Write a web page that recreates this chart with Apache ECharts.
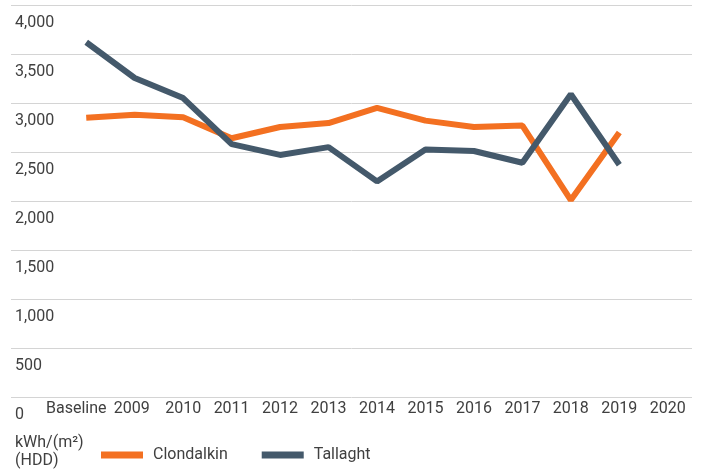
<!DOCTYPE html>
<html>
<head>
<meta charset="utf-8">
<script src="https://cdn.jsdelivr.net/npm/echarts@6/dist/echarts.min.js"></script>
<style>
  html, body { margin: 0; padding: 0; background: #fff; }
  #main { width: 702px; height: 473px; }
</style>
</head>
<body>
<div id="main"></div>
<script>
// categories and values
const years = ["Baseline", "2009", "2010", "2011", "2012", "2013", "2014", "2015", "2016", "2017", "2018", "2019", "2020"];
const clondalkin = [2850, 2880, 2855, 2640, 2755, 2795, 2950, 2820, 2755, 2770, 2010, 2700, null];
const tallaght = [3620, 3255, 3050, 2580, 2470, 2550, 2200, 2525, 2510, 2390, 3090, 2370, null];
const yTicks = { min: 0, max: 4000, step: 500 };

const textColor = "#404040";
const font = "Roboto";

let chart = echarts.init(document.getElementById("main"));
let option = {
  animation: false,
  textStyle: { fontFamily: font },
  title: {
    text: "kWh/(m²)\n(HDD)",
    left: 15,
    top: 434,
    padding: 0,
    textStyle: { fontFamily: font, fontSize: 16, fontWeight: "normal", color: textColor, lineHeight: 18 },
  },
  legend: {
    left: 101,
    top: 447,
    padding: 0,
    icon: "rect",
    itemWidth: 42,
    itemHeight: 7,
    itemGap: 34,
    data: ["Clondalkin", "Tallaght"],
    textStyle: { fontFamily: font, fontSize: 16, color: textColor, padding: [0, 0, 0, 5] },
  },
  grid: [
    // background grid: gridlines + y labels across the whole width
    { left: 11, right: 10, top: 5, bottom: 76 },
    // plot grid for the lines
    { left: 62, right: 10, top: 5, bottom: 76 },
  ],
  xAxis: [
    { gridIndex: 0, type: "value", show: false },
    {
      gridIndex: 1,
      type: "category",
      data: years,
      boundaryGap: true,
      axisLine: { show: false },
      axisTick: { show: false },
      axisLabel: {
        margin: 4,
        fontSize: 16,
        color: textColor,
        fontFamily: font,
        interval: 0,
        // first label sits a little to the left, as in the original
        formatter: (v, i) => (i === 0 ? "{first|" + v + "}" : i === 1 ? "{second|" + v + "}" : v),
        rich: {
          first: { fontSize: 16, color: textColor, fontFamily: font, padding: [0, 20, 0, 0] },
          second: { fontSize: 16, color: textColor, fontFamily: font, padding: [0, 6, 0, 0] },
        },
      },
    },
  ],
  yAxis: [
    {
      gridIndex: 0,
      type: "value",
      min: yTicks.min,
      max: yTicks.max,
      interval: yTicks.step,
      axisLine: { show: false },
      axisTick: { show: false },
      splitLine: { lineStyle: { color: "#d4d4d4", width: 1 } },
      axisLabel: {
        inside: true,
        margin: 4,
        verticalAlign: "top",
        padding: [10, 0, 0, 0],
        fontSize: 16,
        color: textColor,
        fontFamily: font,
        formatter: (v) => v.toLocaleString("en-US"),
      },
    },
    { gridIndex: 1, type: "value", min: yTicks.min, max: yTicks.max, show: false },
  ],
  series: [
    {
      name: "Clondalkin",
      type: "line",
      xAxisIndex: 1,
      yAxisIndex: 1,
      data: clondalkin,
      showSymbol: false,
      color: "#F37021",
      lineStyle: { width: 6 },
    },
    {
      name: "Tallaght",
      type: "line",
      xAxisIndex: 1,
      yAxisIndex: 1,
      data: tallaght,
      showSymbol: false,
      color: "#44596B",
      lineStyle: { width: 6 },
    },
  ],
};
chart.setOption(option);
</script>
</body>
</html>
